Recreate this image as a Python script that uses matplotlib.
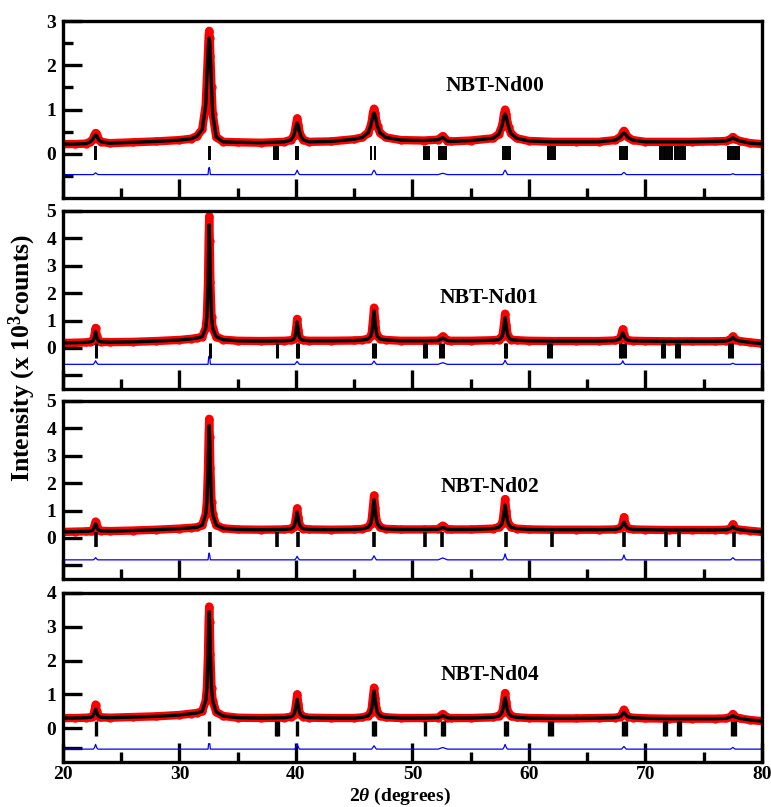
import numpy as np
import matplotlib.pyplot as plt
from matplotlib.ticker import FixedLocator, FuncFormatter

plt.rcParams['font.family'] = 'Liberation Serif'
plt.rcParams['font.weight'] = 'bold'
plt.rcParams['mathtext.fontset'] = 'custom'
plt.rcParams['mathtext.rm'] = 'Liberation Serif:bold'
plt.rcParams['mathtext.it'] = 'Liberation Serif:italic:bold'
plt.rcParams['mathtext.bf'] = 'Liberation Serif:bold'

# 2theta knots (deg), shared by all patterns
two_theta = [20, 21, 22, 22.3, 22.5, 22.6, 22.7, 22.8, 22.9, 23.0, 23.1, 23.3, 24,
             26, 28, 30, 31, 31.5, 31.95, 32.25, 32.35, 32.45, 32.5, 32.55, 32.6, 32.65, 32.75, 32.85, 33.15, 33.75, 35,
             37, 39, 39.6, 39.8, 39.9, 40.0, 40.1, 40.2, 40.3, 40.4, 40.6, 41.1,
             43, 45, 45.7, 46.2, 46.4, 46.5, 46.6, 46.7, 46.8, 46.9, 47.0, 47.2, 47.7, 49,
             51, 52.2, 52.6, 53.0, 53.3, 55,
             56.9, 57.4, 57.65, 57.75, 57.85, 57.95, 58.05, 58.15, 58.25, 58.45, 58.95, 60,
             62, 64, 66, 67.4, 67.8, 67.95, 68.05, 68.15, 68.25, 68.35, 68.5, 68.9, 70,
             72, 74, 76, 76.9, 77.3, 77.5, 77.7, 78.1, 79, 80]

# intensities (x10^3 counts)
calc_nd00 = [0.22, 0.22, 0.23, 0.27, 0.31, 0.35, 0.40, 0.43, 0.40, 0.35, 0.31, 0.27, 0.24,
             0.26, 0.28, 0.31, 0.34, 0.40, 0.55, 1.10, 1.70, 2.30, 2.52, 2.62, 2.50, 2.20, 1.50, 0.90, 0.38, 0.27, 0.26,
             0.25, 0.27, 0.32, 0.41, 0.50, 0.62, 0.70, 0.62, 0.50, 0.41, 0.32, 0.27,
             0.28, 0.33, 0.37, 0.48, 0.62, 0.73, 0.86, 0.92, 0.86, 0.73, 0.62, 0.48, 0.37, 0.31,
             0.30, 0.32, 0.37, 0.29, 0.28, 0.30,
             0.35, 0.44, 0.60, 0.71, 0.84, 0.90, 0.84, 0.71, 0.60, 0.46, 0.35, 0.29,
             0.27, 0.27, 0.27, 0.31, 0.37, 0.42, 0.45, 0.47, 0.45, 0.42, 0.37, 0.31, 0.27,
             0.27, 0.27, 0.28, 0.29, 0.33, 0.36, 0.33, 0.29, 0.24, 0.22]
obs_nd00 = [0.22, 0.22, 0.23, 0.27, 0.31, 0.35, 0.42, 0.47, 0.42, 0.35, 0.31, 0.27, 0.24,
            0.26, 0.28, 0.31, 0.34, 0.40, 0.55, 1.10, 1.70, 2.30, 2.65, 2.78, 2.62, 2.20, 1.50, 0.90, 0.38, 0.27, 0.26,
            0.25, 0.27, 0.32, 0.41, 0.50, 0.66, 0.80, 0.66, 0.50, 0.41, 0.32, 0.27,
            0.28, 0.33, 0.37, 0.48, 0.62, 0.73, 0.92, 1.02, 0.92, 0.73, 0.62, 0.48, 0.37, 0.31,
            0.30, 0.32, 0.40, 0.29, 0.28, 0.30,
            0.35, 0.44, 0.60, 0.71, 0.90, 1.00, 0.90, 0.71, 0.60, 0.46, 0.35, 0.29,
            0.27, 0.27, 0.27, 0.31, 0.37, 0.42, 0.48, 0.52, 0.48, 0.42, 0.37, 0.31, 0.27,
            0.27, 0.27, 0.28, 0.29, 0.33, 0.38, 0.33, 0.29, 0.24, 0.22]

calc_nd01 = [0.18, 0.19, 0.20, 0.22, 0.24, 0.28, 0.40, 0.60, 0.40, 0.28, 0.24, 0.22, 0.21,
             0.22, 0.25, 0.29, 0.33, 0.36, 0.41, 0.72, 1.14, 2.40, 3.66, 4.50, 3.66, 2.40, 1.14, 0.72, 0.41, 0.30, 0.26,
             0.25, 0.26, 0.28, 0.32, 0.39, 0.60, 0.95, 0.60, 0.39, 0.32, 0.28, 0.26,
             0.26, 0.27, 0.29, 0.33, 0.42, 0.55, 0.91, 1.35, 0.91, 0.55, 0.42, 0.33, 0.29, 0.26,
             0.26, 0.27, 0.36, 0.27, 0.26, 0.26,
             0.28, 0.30, 0.39, 0.51, 0.79, 1.10, 0.79, 0.51, 0.39, 0.30, 0.28, 0.26,
             0.25, 0.25, 0.25, 0.27, 0.33, 0.46, 0.55, 0.46, 0.36, 0.31, 0.28, 0.26, 0.25,
             0.24, 0.24, 0.24, 0.25, 0.30, 0.38, 0.30, 0.25, 0.20, 0.16]
obs_nd01 = [0.18, 0.19, 0.20, 0.22, 0.24, 0.28, 0.45, 0.73, 0.45, 0.28, 0.24, 0.22, 0.21,
            0.22, 0.25, 0.29, 0.33, 0.36, 0.41, 0.72, 1.14, 2.40, 3.90, 4.80, 3.90, 2.40, 1.14, 0.72, 0.41, 0.30, 0.26,
            0.25, 0.26, 0.28, 0.32, 0.39, 0.65, 1.06, 0.65, 0.39, 0.32, 0.28, 0.26,
            0.26, 0.27, 0.29, 0.33, 0.42, 0.55, 0.97, 1.47, 0.97, 0.55, 0.42, 0.33, 0.29, 0.26,
            0.26, 0.27, 0.42, 0.27, 0.26, 0.26,
            0.28, 0.30, 0.39, 0.51, 0.85, 1.25, 0.85, 0.51, 0.39, 0.30, 0.28, 0.26,
            0.25, 0.25, 0.25, 0.27, 0.33, 0.50, 0.68, 0.50, 0.36, 0.31, 0.28, 0.26, 0.25,
            0.24, 0.24, 0.24, 0.25, 0.30, 0.42, 0.30, 0.25, 0.20, 0.16]

calc_nd02 = [0.22, 0.23, 0.24, 0.25, 0.27, 0.31, 0.41, 0.52, 0.41, 0.31, 0.28, 0.26, 0.25,
             0.27, 0.30, 0.34, 0.37, 0.39, 0.47, 0.86, 1.31, 2.55, 3.54, 4.10, 3.54, 2.55, 1.31, 0.86, 0.47, 0.35, 0.31,
             0.30, 0.31, 0.34, 0.40, 0.50, 0.71, 0.95, 0.71, 0.50, 0.40, 0.34, 0.31,
             0.30, 0.31, 0.33, 0.39, 0.51, 0.67, 1.03, 1.40, 1.03, 0.67, 0.51, 0.39, 0.33, 0.31,
             0.31, 0.32, 0.38, 0.32, 0.31, 0.31,
             0.34, 0.39, 0.50, 0.64, 0.93, 1.20, 0.93, 0.64, 0.50, 0.39, 0.34, 0.31,
             0.30, 0.30, 0.30, 0.31, 0.35, 0.41, 0.50, 0.58, 0.50, 0.41, 0.35, 0.31, 0.30,
             0.29, 0.29, 0.29, 0.30, 0.34, 0.42, 0.34, 0.30, 0.26, 0.22]
obs_nd02 = [0.22, 0.23, 0.24, 0.25, 0.27, 0.31, 0.44, 0.60, 0.44, 0.31, 0.28, 0.26, 0.25,
            0.27, 0.30, 0.34, 0.37, 0.39, 0.47, 0.86, 1.31, 2.55, 3.70, 4.35, 3.70, 2.55, 1.31, 0.86, 0.47, 0.35, 0.31,
            0.30, 0.31, 0.34, 0.40, 0.50, 0.76, 1.08, 0.76, 0.50, 0.40, 0.34, 0.31,
            0.30, 0.31, 0.33, 0.39, 0.51, 0.67, 1.10, 1.55, 1.10, 0.67, 0.51, 0.39, 0.33, 0.31,
            0.31, 0.32, 0.45, 0.32, 0.31, 0.31,
            0.34, 0.39, 0.50, 0.64, 1.00, 1.42, 1.00, 0.64, 0.50, 0.39, 0.34, 0.31,
            0.30, 0.30, 0.30, 0.31, 0.35, 0.41, 0.55, 0.76, 0.55, 0.41, 0.35, 0.31, 0.30,
            0.29, 0.29, 0.29, 0.30, 0.34, 0.50, 0.34, 0.30, 0.26, 0.22]

calc_nd04 = [0.30, 0.30, 0.31, 0.32, 0.34, 0.38, 0.46, 0.56, 0.46, 0.38, 0.34, 0.32, 0.31,
             0.33, 0.35, 0.39, 0.43, 0.45, 0.50, 0.81, 1.18, 2.19, 2.99, 3.45, 2.99, 2.19, 1.18, 0.81, 0.48, 0.36, 0.31,
             0.30, 0.31, 0.34, 0.40, 0.48, 0.66, 0.85, 0.66, 0.48, 0.40, 0.34, 0.31,
             0.30, 0.30, 0.32, 0.37, 0.46, 0.59, 0.85, 1.10, 0.85, 0.59, 0.46, 0.37, 0.32, 0.30,
             0.30, 0.31, 0.37, 0.31, 0.30, 0.30,
             0.32, 0.36, 0.44, 0.54, 0.73, 0.90, 0.73, 0.54, 0.44, 0.36, 0.32, 0.30,
             0.29, 0.29, 0.30, 0.31, 0.34, 0.38, 0.43, 0.47, 0.43, 0.38, 0.34, 0.31, 0.29,
             0.28, 0.28, 0.28, 0.29, 0.33, 0.37, 0.33, 0.29, 0.24, 0.21]
obs_nd04 = [0.30, 0.30, 0.31, 0.32, 0.34, 0.38, 0.50, 0.70, 0.50, 0.38, 0.34, 0.32, 0.31,
            0.33, 0.35, 0.39, 0.43, 0.45, 0.50, 0.81, 1.18, 2.19, 3.15, 3.60, 3.15, 2.19, 1.18, 0.81, 0.48, 0.36, 0.31,
            0.30, 0.31, 0.34, 0.40, 0.48, 0.72, 1.00, 0.72, 0.48, 0.40, 0.34, 0.31,
            0.30, 0.30, 0.32, 0.37, 0.46, 0.59, 0.90, 1.20, 0.90, 0.59, 0.46, 0.37, 0.32, 0.30,
            0.30, 0.31, 0.42, 0.31, 0.30, 0.30,
            0.32, 0.36, 0.44, 0.54, 0.78, 1.04, 0.78, 0.54, 0.44, 0.36, 0.32, 0.30,
            0.29, 0.29, 0.30, 0.31, 0.34, 0.38, 0.47, 0.55, 0.47, 0.38, 0.34, 0.31, 0.29,
            0.28, 0.28, 0.28, 0.29, 0.33, 0.42, 0.33, 0.29, 0.24, 0.21]

# Bragg reflection positions
refl_nd00 = [22.75, 22.85, 32.5, 32.6, 38.15, 38.3, 38.45, 40.0, 40.15, 46.42, 46.82,
             50.95, 51.1, 51.25, 51.4, 52.25, 52.4, 52.55, 52.7, 52.85,
             57.75, 57.9, 58.05, 58.2, 58.35, 61.6, 61.75, 61.9, 62.05, 62.2,
             67.85, 68.0, 68.15, 68.3, 68.45,
             71.25, 71.4, 71.55, 71.7, 71.85, 72.0, 72.15, 72.3,
             72.5, 72.65, 72.8, 72.95, 73.1, 73.25, 73.35,
             77.05, 77.2, 77.35, 77.5, 77.65, 77.8, 77.95, 78.05]
refl_nd01 = [22.85, 32.6, 38.35, 40.1, 40.2, 46.6, 46.75, 51.0, 51.2, 52.4, 52.6,
             57.9, 58.05, 61.65, 61.85, 67.8, 68.0, 68.25, 71.4, 71.6, 72.65, 72.9, 77.2, 77.45]
refl_nd02 = [22.8, 32.6, 38.35, 40.15, 46.7, 51.1, 52.55, 58.0, 61.95, 68.15,
             71.75, 72.9, 77.6]
refl_nd04 = [22.8, 32.55, 38.3, 38.45, 40.1, 46.6, 46.75, 51.1, 52.5, 52.7, 57.95, 58.1,
             61.75, 61.95, 68.05, 68.3, 71.55, 71.8, 72.75, 73.0, 77.4, 77.7]

names = ['NBT-Nd00', 'NBT-Nd01', 'NBT-Nd02', 'NBT-Nd04']
label_xy = [(57.1, 1.53), (56.6, 1.83), (56.6, 1.85), (56.6, 1.57)]
ylims = [(-1, 3), (-1.5, 5), (-1.5, 5), (-1, 4)]
diff_offset = [-0.47, -0.6, -0.8, -0.62]
bragg_span = [(-0.15, 0.18), (-0.38, 0.18), (-0.32, 0.22), (-0.24, 0.22)]
major_y = [[0, 1, 2, 3], [-1, 0, 1, 2, 3, 4, 5], [-1, 0, 1, 2, 3, 4, 5], [-0.6, 0, 1, 2, 3, 4]]
minor_y = [[-0.5, 0.5, 1.5, 2.5], [], [], []]

fig = plt.figure(figsize=(7.71, 8.07), dpi=100)
boxes = [[0.0817, 0.7546, 0.9066, 0.2193],
         [0.0817, 0.5180, 0.9066, 0.2206],
         [0.0817, 0.2825, 0.9066, 0.2206],
         [0.0817, 0.0558, 0.9066, 0.2094]]

obs_all = [obs_nd00, obs_nd01, obs_nd02, obs_nd04]
calc_all = [calc_nd00, calc_nd01, calc_nd02, calc_nd04]
refl_all = [refl_nd00, refl_nd01, refl_nd02, refl_nd04]
refl_lw = [1.4, 2.2, 2.6, 2.4]

fmt = FuncFormatter(lambda v, p: '%d' % round(v) if v >= -0.01 else '')

for i in range(4):
    ax = fig.add_axes(boxes[i])
    obs = np.array(obs_all[i]); calc = np.array(calc_all[i])
    ax.plot(two_theta, obs, color='red', lw=6, solid_joinstyle='round', zorder=1)
    ax.plot(two_theta, obs, 'o', mfc='none', mec='red', ms=5, mew=1.0, zorder=1)
    ax.plot(two_theta, calc, color='black', lw=2.4, zorder=3)
    ax.plot(two_theta, obs - calc + diff_offset[i], color='blue', lw=0.9, zorder=2)
    ax.vlines(refl_all[i], bragg_span[i][0], bragg_span[i][1], color='black', lw=refl_lw[i], zorder=2)
    ax.text(label_xy[i][0], label_xy[i][1], names[i], ha='center', va='center',
            fontsize=15.5, fontweight='bold')

    ax.set_xlim(20, 80)
    ax.set_ylim(*ylims[i])
    ax.xaxis.set_major_locator(FixedLocator([20, 30, 40, 50, 60, 70, 80]))
    ax.xaxis.set_minor_locator(FixedLocator([25, 35, 45, 55, 65, 75]))
    ax.yaxis.set_major_locator(FixedLocator(major_y[i]))
    ax.yaxis.set_minor_locator(FixedLocator(minor_y[i]))
    ax.yaxis.set_major_formatter(fmt)
    ax.tick_params(which='both', direction='in', top=False, right=False, width=2.4,
                   labelsize=14)
    ax.tick_params(which='major', length=13.5)
    ax.tick_params(which='minor', length=7)
    ax.tick_params(axis='x', pad=3)
    ax.tick_params(axis='y', pad=5)
    if i < 3:
        ax.tick_params(axis='x', labelbottom=False)
    for s in ax.spines.values():
        s.set_linewidth(2.4)

fig.text(0.029, 0.557, r'Intensity (x 10$^3$counts)', rotation=90, ha='center', va='center',
         fontsize=18.5, fontweight='bold')
fig.text(0.519, 0.0, r'2$\mathit{\theta}$ (degrees)', ha='center', va='bottom',
         fontsize=14, fontweight='bold')

fig.savefig('out.png', dpi=100)
